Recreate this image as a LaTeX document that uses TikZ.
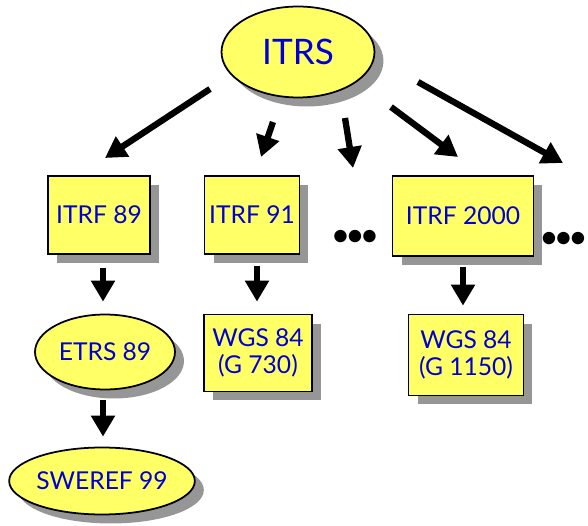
\documentclass[tikz,border=0pt]{standalone}
\usepackage{fontspec}
\setmainfont{Lato}
\usetikzlibrary{arrows.meta,shapes.geometric,shadows}
\definecolor{boxyellow}{RGB}{255,255,102}
\definecolor{labelblue}{RGB}{0,0,210}
\definecolor{shadowgray}{RGB}{150,150,150}
\newcommand{\threedots}{•\kern-2.8pt•\kern-2.8pt•}
\tikzset{
  refshadow/.style={drop shadow={shadow xshift=0.18cm,shadow yshift=-0.18cm,fill=shadowgray,opacity=1}},
  frame/.style={draw=black,line width=1pt,fill=boxyellow,refshadow,text=labelblue,
    font=\fontsize{14}{15}\selectfont,align=center,inner sep=0pt},
  refbox/.style={frame,rectangle},
  refell/.style={frame,ellipse},
  arr/.style={line width=3.6pt,-{Triangle[length=0.42cm,width=0.46cm]}},
  dotsrow/.style={font=\fontsize{19}{19}\selectfont,inner sep=0pt}
}
\begin{document}
\begin{tikzpicture}[x=0.02cm,y=-0.02cm]
  \useasboundingbox (0,0) rectangle (588,526);
  % top
  \node[refell,minimum width=3.06cm,minimum height=1.82cm,font=\fontsize{20}{22}\selectfont] (itrs) at (298,52) {ITRS};
  % realisations
  \node[refbox,minimum width=2.04cm,minimum height=1.56cm] (itrf89) at (99,215) {ITRF 89};
  \node[refbox,minimum width=1.90cm,minimum height=1.56cm] (itrf91) at (252,215) {ITRF 91};
  \node[dotsrow] (dots1) at (355,238) {\threedots};
  \node[refbox,minimum width=2.82cm,minimum height=1.60cm] (itrf2000) at (463,216) {ITRF 2000};
  \node[dotsrow,anchor=east] (dots2) at (588,240) {\threedots};
  % lower row
  \node[refell,minimum width=2.80cm,minimum height=1.50cm] (etrs) at (105,352) {ETRS 89};
  \node[refell,minimum width=3.70cm,minimum height=1.34cm] (sweref) at (102,481) {SWEREF 99};
  \node[refbox,minimum width=2.16cm,minimum height=1.54cm] (wgs730) at (258,353) {WGS 84\\(G 730)};
  \node[refbox,minimum width=2.30cm,minimum height=1.62cm] (wgs1150) at (466,355) {WGS 84\\(G 1150)};
  % free ends of the fan
  \coordinate (f1s) at (210,89);  \coordinate (f1e) at (105,158);
  \coordinate (f2s) at (273,122); \coordinate (f2e) at (261,157);
  \coordinate (f3s) at (345,118); \coordinate (f3e) at (353,168);
  \coordinate (f4s) at (391,107); \coordinate (f4e) at (458,157);
  \coordinate (f5s) at (418,82);  \coordinate (f5e) at (563,163);
  \draw[arr] (f1s) -- (f1e);
  \draw[arr] (f2s) -- (f2e);
  \draw[arr] (f3s) -- (f3e);
  \draw[arr] (f4s) -- (f4e);
  \draw[arr] (f5s) -- (f5e);
  % down the columns
  \draw[arr,shorten <=0.26cm,shorten >=0.24cm] ([xshift=0.08cm]itrf89.south) -- ([xshift=0.08cm]itrf89.south |- etrs.north);
  \draw[arr,shorten <=0.20cm,shorten >=0.20cm] ([xshift=-0.04cm]etrs.south) -- ([xshift=-0.04cm]etrs.south |- sweref.north);
  \draw[arr,shorten <=0.22cm,shorten >=0.24cm] ([xshift=0.10cm]itrf91.south) -- ([xshift=0.10cm]itrf91.south |- wgs730.north);
  \draw[arr,shorten <=0.20cm,shorten >=0.16cm] (itrf2000.south) -- (itrf2000.south |- wgs1150.north);
\end{tikzpicture}
\end{document}
